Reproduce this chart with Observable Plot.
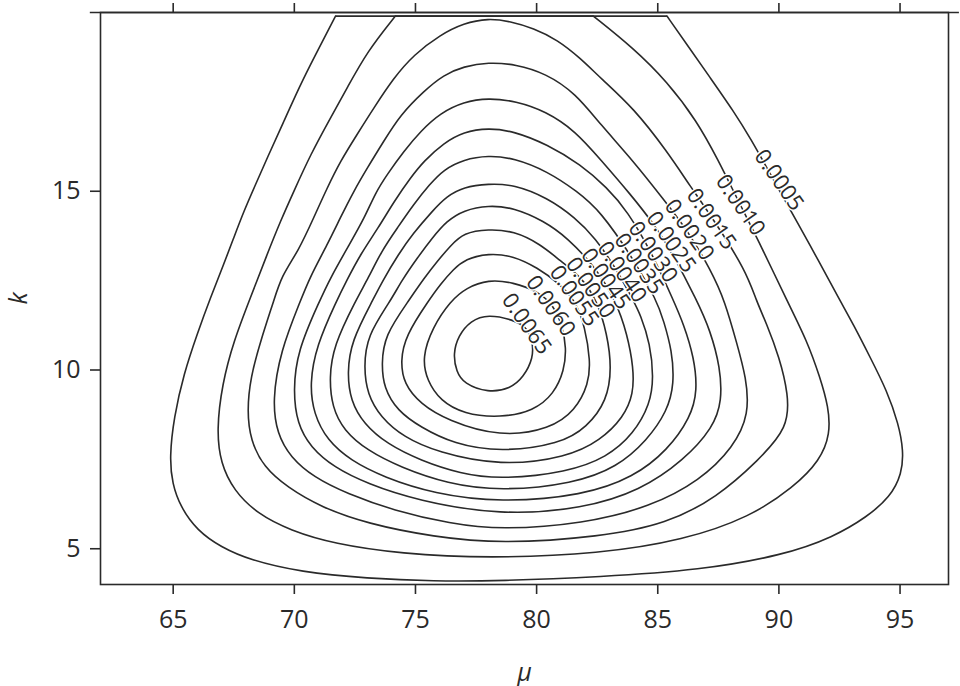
<!DOCTYPE html>
<html>
<head>
<meta charset="utf-8">
<script src="https://cdn.jsdelivr.net/npm/d3@7"></script>
<script src="https://cdn.jsdelivr.net/npm/@observablehq/plot@0.6"></script>
<style>
  html, body { margin: 0; padding: 0; background: #ffffff; }
  #chart svg { display: block; }
</style>
</head>
<body>
<div id="chart"></div>
<script>
// ---- Data: contour levels and [mu, k] points along each contour ----
const levels = ["0.0005", "0.0010", "0.0015", "0.0020", "0.0025", "0.0030", "0.0035",
                "0.0040", "0.0045", "0.0050", "0.0055", "0.0060", "0.0065"];

// the two outer contours run into the top edge of the grid (open paths)
const contour0005 = [[71.70,19.90],[70.80,18.72],[70.25,17.98],[69.57,16.96],[68.88,15.93],[68.40,15.19],[67.92,14.45],[67.50,13.70],[67.09,12.96],[66.54,12.03],[65.99,11.01],[65.44,9.90],[65.03,8.68],[64.85,7.56],[64.96,6.82],[65.30,6.17],[65.99,5.51],[66.96,5.05],[68.19,4.68],[70.25,4.35],[73.01,4.17],[75.74,4.09],[78.50,4.10],[82.63,4.21],[86.75,4.40],[90.19,4.82],[92.26,5.33],[93.63,5.89],[94.59,6.44],[95.08,7.10],[95.14,7.75],[94.94,8.49],[94.46,9.42],[93.77,10.35],[93.07,11.28],[92.53,11.93],[91.57,13.14],[90.88,13.98],[89.81,15.28],[88.82,16.49],[88.13,17.24],[87.17,18.17],[86.21,19.10],[85.38,19.90]];
const contour0010 = [[74.17,19.90],[73.01,18.91],[72.18,17.89],[71.49,17.05],[70.67,16.03],[69.98,15.00],[69.43,14.17],[68.88,13.24],[68.19,12.03],[67.50,10.82],[67.02,9.61],[66.79,8.31],[66.96,7.38],[67.50,6.63],[68.47,5.98],[69.84,5.51],[71.63,5.14],[74.38,4.86],[78.00,4.73],[82.63,4.86],[86.07,5.24],[88.82,5.89],[90.61,6.72],[91.70,7.47],[92.12,8.21],[92.05,8.96],[91.70,9.79],[91.16,10.82],[90.34,11.93],[89.10,13.70],[88.41,14.61],[87.45,15.93],[86.62,16.96],[85.38,18.07],[84.00,19.00],[82.34,19.90]];
// closed contours
const contour0015 = [[78.00,19.84],[78.92,19.75],[79.87,19.56],[80.85,19.24],[81.81,18.72],[82.63,18.17],[84.00,17.33],[85.38,16.12],[86.34,15.14],[87.29,14.22],[88.65,12.77],[89.07,11.93],[89.48,11.32],[90.02,10.35],[90.39,9.33],[90.39,8.39],[89.15,7.47],[87.45,6.44],[85.38,5.70],[82.63,5.33],[78.50,5.14],[75.75,5.33],[73.01,5.70],[71.08,6.17],[69.71,6.72],[68.74,7.28],[68.19,8.03],[68.05,8.86],[68.19,9.79],[68.61,10.82],[69.15,11.93],[69.47,12.63],[70.17,13.33],[70.80,14.26],[71.36,15.10],[71.90,15.84],[72.59,16.59],[73.28,17.33],[74.10,18.17],[74.93,18.82],[76.03,19.38],[76.99,19.70]];
const contour0020 = [[78.00,18.61],[79.14,18.55],[80.37,18.30],[81.61,17.74],[82.63,16.87],[84.00,15.84],[85.23,14.78],[86.22,13.92],[87.21,12.77],[87.77,11.93],[88.27,10.73],[88.65,9.79],[88.78,8.77],[88.13,7.84],[86.75,6.91],[84.69,6.17],[81.94,5.70],[78.50,5.53],[76.44,5.70],[74.10,6.07],[72.18,6.54],[70.80,7.00],[69.84,7.56],[69.29,8.21],[69.09,9.14],[69.43,10.54],[70.25,11.93],[70.63,12.58],[71.37,13.52],[71.90,14.26],[72.45,15.00],[73.01,15.65],[73.69,16.40],[74.38,17.14],[75.34,17.80],[76.17,18.26],[76.99,18.49]];
const contour0025 = [[78.00,17.61],[79.14,17.52],[80.37,17.24],[81.61,16.68],[82.63,15.89],[83.87,14.92],[84.90,14.03],[85.56,13.32],[86.63,11.93],[87.17,11.10],[87.58,10.07],[87.65,9.14],[87.30,8.40],[86.07,7.47],[84.28,6.63],[81.94,6.12],[78.50,5.93],[75.06,6.35],[73.01,6.82],[71.63,7.28],[70.67,7.84],[70.12,8.49],[69.95,9.42],[70.13,10.54],[71.04,11.93],[71.49,12.58],[72.28,13.52],[72.90,14.26],[73.35,14.96],[73.83,15.47],[74.52,16.12],[75.21,16.68],[76.03,17.19],[76.99,17.50]];
const contour0030 = [[78.00,16.77],[79.06,16.68],[80.44,16.31],[81.81,15.75],[82.91,15.10],[83.74,14.45],[84.74,13.30],[85.66,11.93],[86.07,11.28],[86.50,10.35],[86.64,9.42],[86.36,8.68],[85.40,7.75],[84.00,7.00],[81.94,6.49],[78.50,6.29],[75.75,6.54],[73.69,7.00],[72.32,7.47],[71.36,8.03],[70.80,8.77],[70.63,9.61],[70.91,10.68],[71.74,11.93],[72.15,12.49],[72.73,13.24],[73.47,13.98],[74.13,14.73],[74.80,15.38],[75.34,15.84],[76.17,16.35],[76.99,16.66]];
const contour0035 = [[78.00,16.00],[79.06,15.93],[80.44,15.56],[81.67,15.00],[82.63,14.45],[83.99,13.11],[84.97,11.93],[85.24,11.38],[85.59,10.54],[85.68,9.61],[85.40,8.86],[84.56,8.03],[83.32,7.28],[81.53,6.82],[78.50,6.61],[76.31,6.82],[74.38,7.28],[73.01,7.75],[72.04,8.31],[71.56,8.96],[71.44,9.79],[71.62,10.68],[72.52,11.93],[73.06,12.58],[73.60,13.33],[74.26,13.98],[74.92,14.63],[75.58,15.19],[76.17,15.61],[76.99,15.89]];
const contour0040 = [[78.00,15.21],[79.06,15.19],[80.44,14.82],[81.59,14.26],[82.41,13.70],[83.29,12.83],[84.00,11.93],[84.28,11.56],[84.69,10.73],[84.83,9.79],[84.69,9.05],[84.00,8.21],[82.91,7.56],[81.27,7.14],[78.50,6.94],[76.85,7.10],[75.21,7.47],[73.83,7.93],[72.87,8.49],[72.32,9.14],[72.18,9.93],[72.36,10.82],[73.22,11.93],[73.64,12.49],[74.30,13.24],[74.88,13.80],[75.70,14.45],[76.29,14.86],[76.99,15.12]];
const contour0045 = [[78.00,14.61],[79.06,14.54],[80.30,14.17],[81.27,13.70],[82.42,12.88],[83.28,11.93],[83.74,11.00],[84.00,10.07],[84.00,9.33],[83.59,8.68],[82.63,8.03],[81.27,7.56],[78.50,7.31],[75.90,7.70],[74.52,8.12],[73.56,8.68],[73.01,9.33],[72.87,10.07],[73.00,10.96],[73.97,11.93],[74.42,12.49],[75.08,13.14],[75.70,13.70],[76.29,14.17],[76.99,14.47]];
const contour0050 = [[78.00,13.94],[79.06,13.89],[80.16,13.52],[80.98,13.05],[81.81,12.63],[82.51,11.93],[82.91,11.00],[83.10,10.07],[82.91,9.14],[82.08,8.40],[80.98,7.93],[78.50,7.70],[76.58,7.93],[75.21,8.40],[74.25,8.86],[73.69,9.51],[73.60,10.17],[73.72,10.96],[74.71,11.93],[75.37,12.58],[75.91,13.05],[76.44,13.47],[76.99,13.84]];
const contour0055 = [[78.00,13.27],[79.06,13.19],[80.03,12.86],[80.90,12.44],[81.62,11.93],[82.00,11.19],[82.22,10.26],[82.15,9.61],[81.59,8.86],[80.57,8.35],[78.50,8.12],[76.31,8.59],[75.21,9.05],[74.52,9.61],[74.38,10.26],[74.59,10.96],[75.53,11.93],[76.03,12.40],[76.57,12.82],[77.06,13.10]];
const contour0060 = [[78.00,12.53],[79.04,12.45],[80.03,12.21],[80.69,11.82],[81.06,11.24],[81.23,10.62],[81.14,9.98],[80.71,9.33],[79.89,8.86],[78.50,8.66],[76.99,8.77],[76.03,9.14],[75.48,9.70],[75.27,10.35],[75.70,11.19],[76.44,11.93],[77.10,12.30]];
const contour0065 = [[78.00,11.56],[79.04,11.40],[79.58,11.21],[79.83,10.82],[79.87,10.34],[79.45,9.79],[78.92,9.48],[78.00,9.36],[76.99,9.62],[76.69,9.95],[76.55,10.45],[76.77,10.96],[77.27,11.38]];

// where each level's label sits on its contour
const labelMu = [90.00, 88.41, 87.21, 86.30, 85.55, 84.80, 84.22, 83.52, 82.85, 82.22, 81.55, 80.58, 79.58];
const labelK  = [15.31, 14.61, 14.22, 13.92, 13.58, 13.30, 12.97, 12.74, 12.55, 12.30, 12.07, 11.79, 11.29];

const xTicks = [65, 70, 75, 80, 85, 90, 95];
const yTicks = [5, 10, 15];
const xDomain = [62, 97];
const yDomain = [4, 20];

// ---- Build tables ----
const contours = [contour0005, contour0010, contour0015, contour0020, contour0025, contour0030,
                  contour0035, contour0040, contour0045, contour0050, contour0055, contour0060, contour0065];
const openLevels = new Set(["0.0005", "0.0010"]);
const rows = [];
contours.forEach((pts, i) => pts.forEach(([mu, k]) => rows.push({level: levels[i], mu, k})));
const openRows = rows.filter(r => openLevels.has(r.level));
const closedRows = rows.filter(r => !openLevels.has(r.level));
const topSegs = [contour0005, contour0010].map(p => ({
  x1: p[0][0], y1: p[0][1], x2: p[p.length - 1][0], y2: p[p.length - 1][1]
}));
const labelRows = levels.map((l, i) => ({level: l, mu: labelMu[i], k: labelK[i]}));

const ink = "#2a2a2a";
const lw = 1.6;

const chart = Plot.plot({
  width: 960,
  height: 686,
  marginLeft: 100,
  marginRight: 12,
  marginTop: 12,
  marginBottom: 102,
  style: {fontFamily: "'Open Sans', sans-serif", background: "#ffffff", color: ink},
  x: {domain: xDomain},
  y: {domain: yDomain},
  marks: [
    Plot.line(closedRows, {x: "mu", y: "k", z: "level", curve: "basis-closed", stroke: ink, strokeWidth: lw, clip: true}),
    Plot.line(openRows, {x: "mu", y: "k", z: "level", curve: "basis", stroke: ink, strokeWidth: lw, clip: true}),
    Plot.link(topSegs, {x1: "x1", y1: "y1", x2: "x2", y2: "y2", stroke: ink, strokeWidth: lw}),
    Plot.text(labelRows, {x: "mu", y: "k", text: "level", rotate: 55, fontSize: 22, fill: ink,
                          stroke: "#ffffff", strokeWidth: 3, paintOrder: "stroke"}),
    Plot.frame({stroke: ink, strokeWidth: lw}),
    Plot.ruleY([yDomain[1]], {x1: xDomain[0] - 0.42, x2: xDomain[1] + 0.45, stroke: ink, strokeWidth: lw}),
    Plot.axisX({anchor: "bottom", ticks: xTicks, tickSize: 10, tickPadding: 16, fontSize: 25, label: null, strokeWidth: lw}),
    Plot.axisX({anchor: "top", ticks: xTicks, tickSize: 10, tickFormat: () => "", label: null, strokeWidth: lw}),
    Plot.axisY({anchor: "left", ticks: yTicks, tickSize: 10, tickPadding: 10, fontSize: 25, label: null, strokeWidth: lw}),
    Plot.text(["μ"], {frameAnchor: "bottom", dy: 88, textAnchor: "middle", lineAnchor: "middle",
                      fontSize: 25, fontStyle: "italic", fill: ink}),
    Plot.text(["k"], {frameAnchor: "left", dx: -82, textAnchor: "middle", lineAnchor: "middle", rotate: -90,
                      fontSize: 25, fontStyle: "italic", fill: ink})
  ]
});
document.getElementById("chart").append(chart);
</script>
</body>
</html>
